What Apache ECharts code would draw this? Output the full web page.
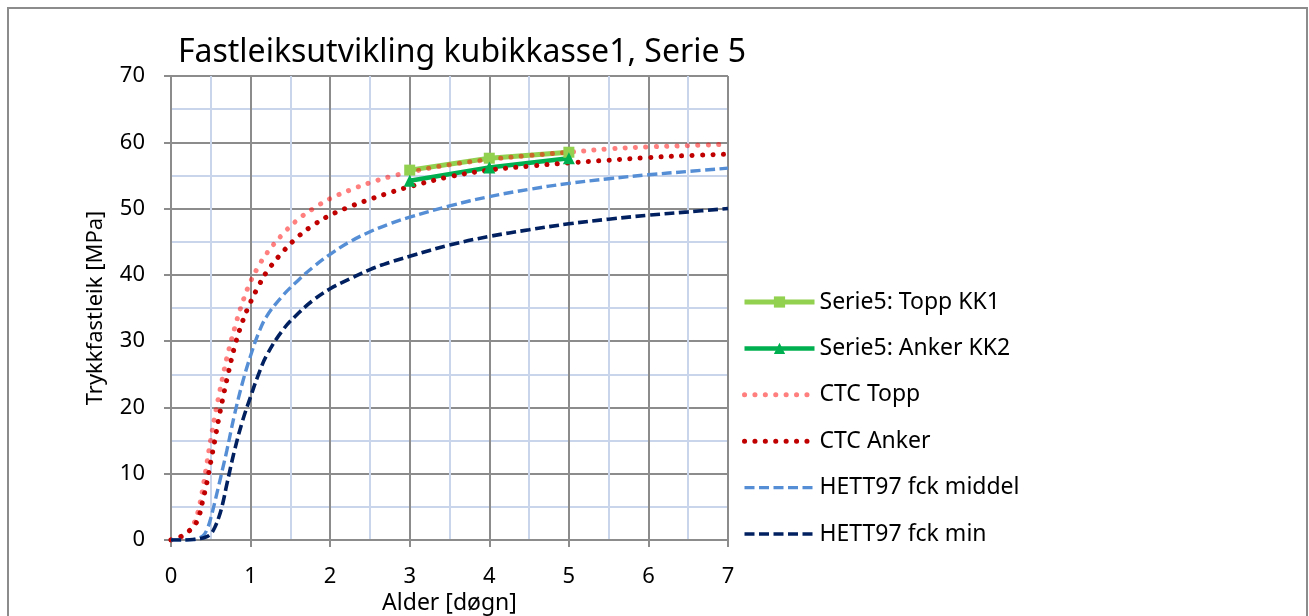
<!DOCTYPE html>
<html>
<head>
<meta charset="utf-8">
<title>Fastleiksutvikling kubikkasse1, Serie 5</title>
<script src="https://cdn.jsdelivr.net/npm/echarts@6/dist/echarts.min.js"></script>
<style>
  html, body { margin: 0; padding: 0; background: #ffffff; }
  #chart { width: 1309px; height: 616px; }
</style>
</head>
<body>
<div id="chart"></div>
<script>
// Measured cube strengths, Serie 5 (age in days, MPa)
const testAges = [3, 4, 5];
const toppKK1 = [55.8, 57.6, 58.5];
const ankerKK2 = [54.2, 56.2, 57.6];

// Age steps shared by the calculated development curves
const curveAges = [0, 0.1, 0.2, 0.3, 0.35, 0.4, 0.45, 0.5, 0.55, 0.6, 0.65, 0.7, 0.8, 0.9,
  1.0, 1.1, 1.2, 1.4, 1.6, 1.8, 2.0, 2.25, 2.5, 2.75, 3.0, 3.5, 4.0, 4.5, 5.0, 5.5, 6.0, 6.5, 7.0];

// CTC calculated strength, top and anchor
const ctcTopp = [0, 0.3, 1.0, 2.8, 4.8, 7.8, 11.5, 15.2, 18.6, 21.7, 24.6, 27.4, 32.0, 35.9,
  39.0, 41.3, 43.2, 46.1, 48.4, 50.1, 51.5, 52.8, 53.9, 54.8, 55.5, 56.6, 57.4, 58.0, 58.5, 59.0, 59.3, 59.5, 59.7];
const ctcAnker = [0, 0.4, 1.1, 2.3, 3.5, 6.0, 8.6, 11.8, 15.0, 18.3, 21.3, 24.1, 29.2, 33.0,
  35.9, 38.3, 40.4, 43.4, 45.8, 47.6, 49.0, 50.3, 51.4, 52.4, 53.3, 54.8, 55.8, 56.4, 56.9, 57.3, 57.7, 58.0, 58.2];

// HETT97 development curves, mean and minimum fck
const hettMiddel = [0, 0, 0, 0.1, 0.3, 0.6, 1.5, 3.3, 5.7, 8.2, 10.8, 13.4, 19.0, 23.8,
  27.8, 31.2, 33.7, 36.8, 39.2, 41.3, 43.1, 45.0, 46.5, 47.7, 48.7, 50.4, 51.8, 52.9, 53.8, 54.5, 55.1, 55.6, 56.1];
const hettMin = [0, 0, 0, 0.1, 0.2, 0.3, 0.5, 0.9, 1.9, 3.4, 5.5, 8.3, 13.6, 18.0,
  21.6, 25.0, 27.8, 31.6, 34.2, 36.3, 37.9, 39.4, 40.8, 41.9, 42.8, 44.5, 45.8, 46.8, 47.7, 48.4, 49.0, 49.5, 50.0];

// Axis tick labels
const xTicks = ['0', '1', '2', '3', '4', '5', '6', '7'];
const yTicks = ['0', '10', '20', '30', '40', '50', '60', '70'];

const pairs = (xs, ys) => xs.map((x, i) => [x, ys[i]]);

const FONT = '"Noto Sans", "Open Sans", sans-serif';
const GRID_GREY = '#8c8c8c';
const MINOR_BLUE = '#c8d5ea';

const chart = echarts.init(document.getElementById('chart'), null, { renderer: 'canvas' });

const axisCommon = {
  type: 'value',
  axisLine: { show: true, lineStyle: { color: GRID_GREY, width: 2 } },
  axisTick: { show: true, inside: false, length: 7, lineStyle: { color: GRID_GREY, width: 2 } },
  splitLine: { show: true, lineStyle: { color: GRID_GREY, width: 2 } },
  minorTick: { show: false, splitNumber: 2 },
  minorSplitLine: { show: true, lineStyle: { color: MINOR_BLUE, width: 2 } },
  nameLocation: 'middle',
  nameMoveOverlap: false,
  nameTextStyle: { fontFamily: FONT, fontSize: 23, color: '#000' }
};

// legend swatches: curves show only their line, tests keep their marker
const swatch = (name, width, marker) => ({
  name,
  lineStyle: { width },
  itemStyle: marker ? {} : { opacity: 0 }
});

const option = {
  backgroundColor: '#ffffff',
  animation: false,
  title: {
    text: 'Fastleiksutvikling kubikkasse1, Serie 5',
    left: 457,
    top: 32,
    textAlign: 'center',
    textStyle: { fontFamily: FONT, fontSize: 32, fontWeight: 'normal', color: '#000' }
  },
  grid: { left: 171, right: 581, top: 76, bottom: 76, containLabel: false, outerBoundsMode: 'none' },
  xAxis: Object.assign({}, axisCommon, {
    min: 0, max: 7, interval: 1,
    name: 'Alder [døgn]',
    nameGap: 52,
    axisLabel: {
      margin: 26, fontFamily: FONT, fontSize: 22, color: '#000',
      formatter: v => xTicks[Math.round(v)]
    }
  }),
  yAxis: Object.assign({}, axisCommon, {
    min: 0, max: 70, interval: 10,
    name: 'Trykkfastleik [MPa]',
    nameGap: 64,
    nameRotate: 90,
    nameTextStyle: { fontFamily: FONT, fontSize: 22, color: '#000' },
    axisLabel: {
      margin: 26, fontFamily: FONT, fontSize: 22, color: '#000',
      formatter: v => yTicks[Math.round(v / 10)]
    }
  }),
  legend: {
    orient: 'vertical',
    left: 737,
    top: 285,
    itemWidth: 70,
    itemHeight: 14,
    itemGap: 22.4,
    selectedMode: false,
    textStyle: { fontFamily: FONT, fontSize: 23, lineHeight: 24, color: '#000' },
    data: [
      swatch('Serie5: Topp KK1', 5, true),
      swatch('Serie5: Anker KK2', 4.5, true),
      swatch('CTC Topp', 5, false),
      swatch('CTC Anker', 5, false),
      swatch('HETT97 fck middel', 3.4, false),
      swatch('HETT97 fck min', 3.6, false)
    ]
  },
  series: [
    {
      name: 'Serie5: Topp KK1', type: 'line', data: pairs(testAges, toppKK1),
      symbol: 'rect', symbolSize: 11,
      itemStyle: { color: '#92d050' },
      lineStyle: { color: '#92d050', width: 5 }
    },
    {
      name: 'Serie5: Anker KK2', type: 'line', data: pairs(testAges, ankerKK2),
      symbol: 'triangle', symbolSize: 12,
      itemStyle: { color: '#00b050' },
      lineStyle: { color: '#00b050', width: 4.5 }
    },
    {
      name: 'CTC Topp', type: 'line', data: pairs(curveAges, ctcTopp),
      symbol: 'none', smooth: 0.4,
      itemStyle: { color: 'rgba(255,0,0,0.5)' },
      lineStyle: { color: 'rgba(255,0,0,0.5)', width: 5, type: [0.1, 10.3], cap: 'round' }
    },
    {
      name: 'CTC Anker', type: 'line', data: pairs(curveAges, ctcAnker),
      symbol: 'none', smooth: 0.4,
      itemStyle: { color: '#c00000' },
      lineStyle: { color: '#c00000', width: 5, type: [0.1, 10.3], cap: 'round' }
    },
    {
      name: 'HETT97 fck middel', type: 'line', data: pairs(curveAges, hettMiddel),
      symbol: 'none', smooth: 0.4,
      itemStyle: { color: '#558ed5' },
      lineStyle: { color: '#558ed5', width: 3.4, type: [10, 4.5] }
    },
    {
      name: 'HETT97 fck min', type: 'line', data: pairs(curveAges, hettMin),
      symbol: 'none', smooth: 0.4,
      itemStyle: { color: '#002060' },
      lineStyle: { color: '#002060', width: 3.6, type: [10, 4.5] }
    }
  ],
  graphic: [
    {
      type: 'rect', silent: true, z: -1,
      shape: { x: 8, y: 8, width: 1299, height: 700 },
      style: { fill: 'none', stroke: GRID_GREY, lineWidth: 2 }
    }
  ]
};

chart.setOption(option);
</script>
</body>
</html>
